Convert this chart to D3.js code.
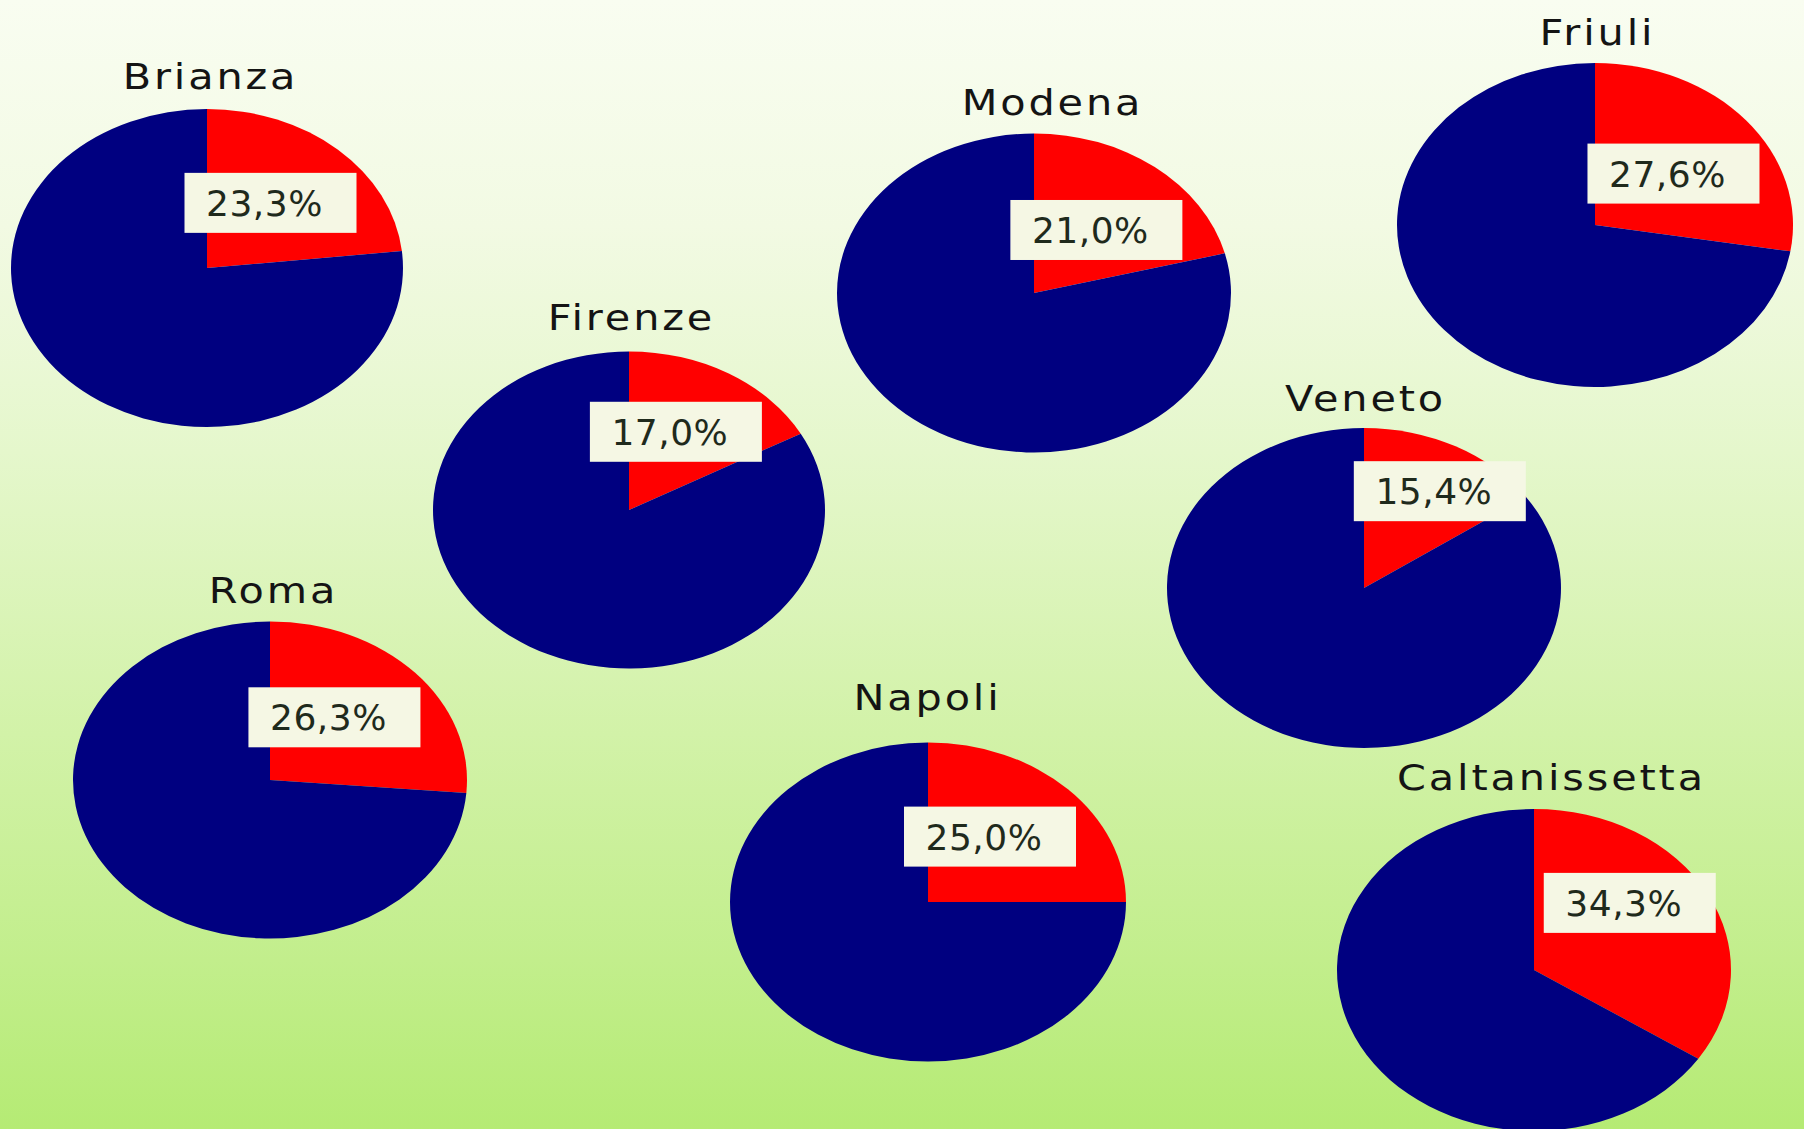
<!DOCTYPE html>
<html lang="it">
<head>
<meta charset="utf-8">
<title>Quota per area</title>
<script src="https://cdn.jsdelivr.net/npm/d3@7/dist/d3.min.js"></script>
<style>
  html, body { margin: 0; padding: 0; background: #f7fcee; }
  svg { display: block; }
  .title { font-family: "Comic Sans MS", "DejaVu Sans", sans-serif; font-size: 36px; fill: #141414; letter-spacing: 2.5px; }
  .pct { font-family: "Comic Sans MS", "DejaVu Sans", sans-serif; font-size: 36px; fill: #1f2a1c; letter-spacing: 0.5px; }
</style>
</head>
<body>
<script>
// Areas and the share of each one shown in red
const regions = ["Brianza", "Modena", "Friuli", "Firenze", "Veneto", "Roma", "Napoli", "Caltanissetta"];
const shares  = [23.3, 21.0, 27.6, 17.0, 15.4, 26.3, 25.0, 34.3];

// Where each pie sits on the page: centre, radii, title offset
// and a hand-placed nudge for the value label
const layout = [
  { cx: 207,  cy: 268, rx: 196, ry: 159,   titleDx: 2,  titleDy: -20, nudge: [-2, -6] },
  { cx: 1034, cy: 293, rx: 197, ry: 159.5, titleDx: 17, titleDy: -19, nudge: [2, 0] },
  { cx: 1595, cy: 225, rx: 198, ry: 162,   titleDx: 1,  titleDy: -18, nudge: [3, 1] },
  { cx: 629,  cy: 510, rx: 196, ry: 158.5, titleDx: 1,  titleDy: -22, nudge: [-3, -10] },
  { cx: 1364, cy: 588, rx: 197, ry: 160,   titleDx: 0,  titleDy: -17, nudge: [30, -26] },
  { cx: 270,  cy: 780, rx: 197, ry: 158.5, titleDx: 2,  titleDy: -19, nudge: [-8, -9] },
  { cx: 928,  cy: 902, rx: 198, ry: 159.5, titleDx: -2, titleDy: -33, nudge: [-8, -9] },
  { cx: 1534, cy: 970, rx: 197, ry: 161,   titleDx: 16, titleDy: -19, nudge: [9, -29] }
];

const W = 1804, H = 1129;
const R = 100;                    // unit radius, stretched into an ellipse per pie
const sliceColors = ["#ff0000", "#000080"];
const titleStretch = 1.15;        // widen the fallback face toward a rounder hand-drawn look

const it = d3.formatLocale({ decimal: ",", thousands: ".", grouping: [3], currency: ["", " €"] });
const fmt = it.format(".1f");

const svg = d3.select("body").append("svg")
  .attr("width", W).attr("height", H)
  .attr("viewBox", `0 0 ${W} ${H}`);

// Soft white-to-green background
const grad = svg.append("defs").append("linearGradient")
  .attr("id", "bg").attr("x1", 0).attr("y1", 0).attr("x2", 0).attr("y2", 1);
[[0, "#f9fdf1"], [0.2, "#f2fae3"], [0.4, "#e5f7cc"], [0.65, "#d2f2a8"], [0.85, "#c2ee8c"], [1, "#b5eb74"]]
  .forEach(([o, c]) => grad.append("stop").attr("offset", o).attr("stop-color", c));
svg.append("rect").attr("width", W).attr("height", H).attr("fill", "url(#bg)");

const pie = d3.pie().sort(null).value(d => d);
const arc = d3.arc().innerRadius(0).outerRadius(R);

regions.forEach((name, i) => {
  const L = layout[i];
  const sx = L.rx / R, sy = L.ry / R;
  const slices = pie([shares[i], 100 - shares[i]]);

  const g = svg.append("g").attr("transform", `translate(${L.cx},${L.cy})`);

  // Pie wedges, drawn on a circle then stretched into the ellipse
  g.append("g")
    .attr("transform", `scale(${sx},${sy})`)
    .selectAll("path")
    .data(slices)
    .join("path")
      .attr("d", arc)
      .attr("fill", (d, j) => sliceColors[j]);

  // Title above the pie
  g.append("text")
    .attr("class", "title")
    .attr("text-anchor", "middle")
    .attr("transform", `translate(${L.titleDx + 1.5},${-L.ry + L.titleDy}) scale(${titleStretch},1)`)
    .text(name);

  // Value label in a pale box near the red wedge's centroid
  const [mx, my] = arc.centroid(slices[0]);
  const lx = mx * sx + L.nudge[0];
  const ly = my * sy + L.nudge[1];
  const lab = g.append("g").attr("transform", `translate(${lx},${ly})`);
  lab.append("rect")
    .attr("x", -86).attr("y", -30).attr("width", 172).attr("height", 60)
    .attr("fill", "#f5f7e4");
  lab.append("text")
    .attr("class", "pct")
    .attr("text-anchor", "middle")
    .attr("x", -6).attr("y", 13)
    .text(fmt(shares[i]) + "%");
});
</script>
</body>
</html>
